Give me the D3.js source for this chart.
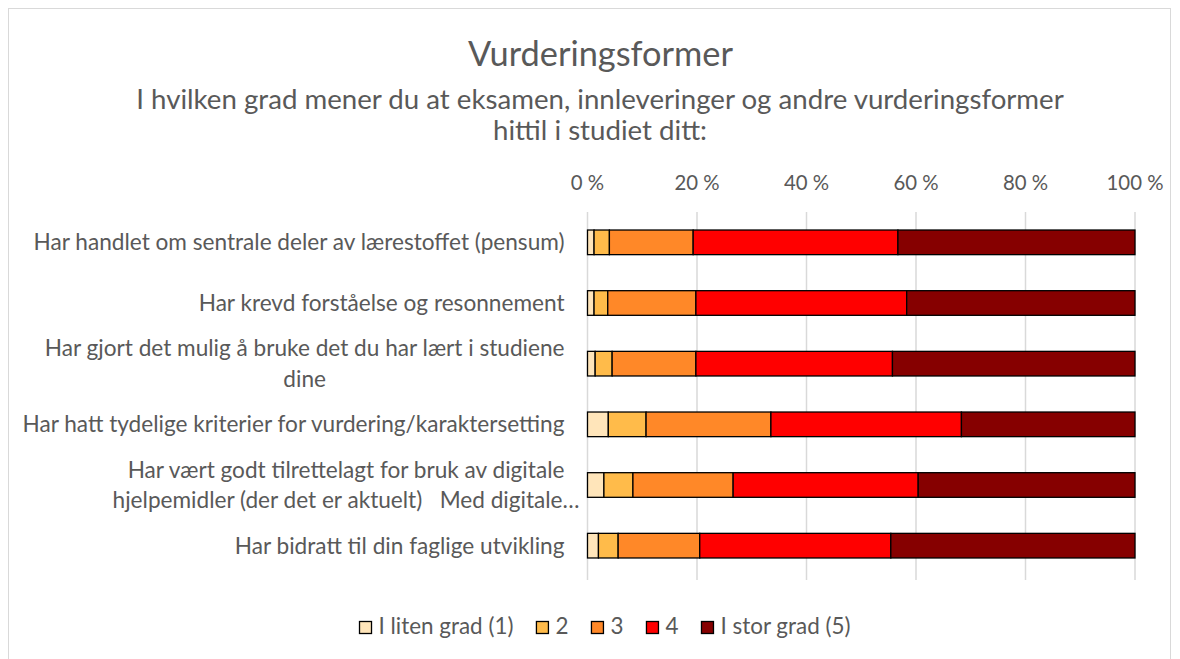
<!DOCTYPE html>
<html><head><meta charset="utf-8">
<script src="https://cdn.jsdelivr.net/npm/d3@7"></script>
<style>body{margin:0;background:#fff}svg{display:block}text{font-family:Lato,"Open Sans",sans-serif;fill:#595959;white-space:pre}</style>
</head><body><svg id="c" width="1180" height="659"></svg>
<script>
const categories = [
  ["Har handlet om sentrale deler av lærestoffet (pensum)"],
  ["Har krevd forståelse og resonnement"],
  ["Har gjort det mulig å bruke det du har lært i studiene","dine"],
  ["Har hatt tydelige kriterier for vurdering/karaktersetting"],
  ["Har vært godt tilrettelagt for bruk av digitale","hjelpemidler (der det er aktuelt)   Med digitale…"],
  ["Har bidratt til din faglige utvikling"]
];
const seriesNames = ["I liten grad (1)","2","3","4","I stor grad (5)"];
const grad1 = [1.2,1.2,1.4,3.8,3.0,2.0];
const grad2 = [2.8,2.5,3.1,6.9,5.3,3.6];
const grad3 = [15.3,16.1,15.3,22.8,18.3,14.9];
const grad4 = [37.4,38.5,35.9,34.8,33.8,34.9];
const grad5 = [43.3,41.7,44.3,31.7,39.6,44.6];
const tickValues = [0,20,40,60,80,100];
const colors = ["#FFE5BA","#FFBB4A","#FF8828","#FF0000","#860000"];

const svg = d3.select("#c");
svg.append("rect").attr("x",8.5).attr("y",8.5).attr("width",1162).attr("height",700)
  .attr("fill","#fff").attr("stroke","#d9d9d9").attr("stroke-width",1);

function fit(sel, target){
  const w = sel.node().getComputedTextLength();
  const fs = parseFloat(sel.attr("font-size"));
  const nf = fs*target/w;
  sel.attr("font-size", nf);
  return nf;
}

// titles
const t = svg.append("text").attr("x",600.5).attr("y",66).attr("text-anchor","middle").attr("font-size",28).text("Vurderingsformer");
fit(t,265);
const s2 = svg.append("text").attr("x",600).attr("y",140).attr("text-anchor","middle").attr("font-size",22).text("hittil i studiet ditt:");
const sfs = fit(s2,214);
svg.append("text").attr("x",600).attr("y",109).attr("text-anchor","middle").attr("font-size",sfs)
  .text("I hvilken grad mener du at eksamen, innleveringer og andre vurderingsformer");

const table = categories.map((c,i)=>({key:i, g1:grad1[i], g2:grad2[i], g3:grad3[i], g4:grad4[i], g5:grad5[i]}));
const keys = ["g1","g2","g3","g4","g5"];
const stacked = d3.stack().keys(keys)(table);

const x = d3.scaleLinear().domain([0,100]).range([587.5,1135]);
const y = d3.scaleBand().domain(d3.range(categories.length)).range([212,576]).paddingInner(0.594).paddingOuter(0.297);

// gridlines
svg.append("g").selectAll("line").data(tickValues).join("line")
  .attr("x1",d=>x(d)).attr("x2",d=>x(d)).attr("y1",212).attr("y2",580)
  .attr("stroke","#d9d9d9").attr("stroke-width",1.5);

// tick labels
const ticks = svg.append("g").selectAll("text").data(tickValues).join("text")
  .attr("x",d=>x(d)).attr("y",190).attr("text-anchor","middle").attr("font-size",18)
  .text(d=>d+" %");
const tfs = fit(ticks.filter(d=>d===100),57);
ticks.attr("font-size",tfs);

// bars
svg.append("g").selectAll("g").data(stacked).join("g").attr("fill",(d,i)=>colors[i])
  .selectAll("rect").data(d=>d).join("rect")
  .attr("x",d=>x(d[0])).attr("width",d=>x(d[1])-x(d[0]))
  .attr("y",(d,i)=>y(i)).attr("height",y.bandwidth())
  .attr("stroke","#000").attr("stroke-width",1.3);

// category labels
const probe = svg.append("text").attr("font-size",18).text(categories[0][0]);
const lfs = fit(probe,531);
probe.remove();
const lineH = 30.5;
const right = 564.5;
categories.forEach((lines,i)=>{
  const cy = y(i)+y.bandwidth()/2;
  if(lines.length===1){
    svg.append("text").attr("x",right).attr("y",cy+lfs*0.35).attr("text-anchor","end").attr("font-size",lfs).text(lines[0]);
  } else {
    const g = svg.append("g");
    const ts = lines.map((l,j)=>g.append("text").attr("font-size",lfs).attr("text-anchor","middle")
      .attr("y",cy+lfs*0.35+(j-(lines.length-1)/2)*lineH).text(l));
    const mw = d3.max(ts,s=>s.node().getComputedTextLength());
    const shift = i===4 ? 15 : 0;
    ts.forEach(s=>s.attr("x",right+shift-mw/2));
  }
});

// legend
const lg = svg.append("g");
const items = seriesNames.map((n,i)=>{
  const gi = lg.append("g");
  gi.append("rect").attr("width",12).attr("height",12).attr("y",621.5).attr("fill",colors[i]).attr("stroke","#000").attr("stroke-width",1.3);
  const tx = gi.append("text").attr("x",19).attr("y",634).attr("font-size",18).text(n);
  return {gi,tx};
});
const legfs = fit(items[0].tx,135);
items.forEach(it=>it.tx.attr("font-size",legfs));
let cx = 0;
const pos = items.map(it=>{const p=cx; cx += 19 + it.tx.node().getComputedTextLength() + 23; return p;});
const total = cx - 23;
const start = 605 - total/2;
items.forEach((it,i)=>it.gi.attr("transform",`translate(${start+pos[i]},0)`));
</script></body></html>
